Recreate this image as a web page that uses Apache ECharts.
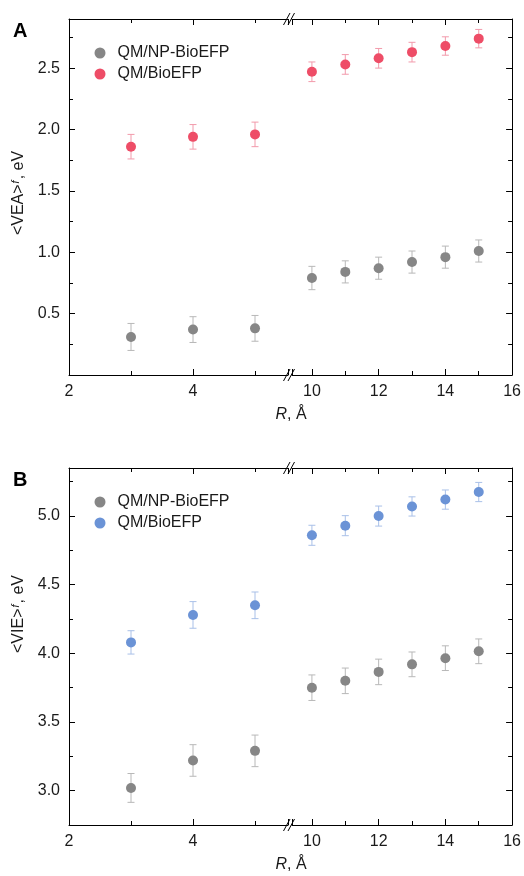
<!DOCTYPE html>
<html>
<head>
<meta charset="utf-8">
<script src="https://cdn.jsdelivr.net/npm/echarts@6/dist/echarts.min.js"></script>
<style>
  html, body { margin: 0; padding: 0; background: #fff; }
  #chart { width: 524px; height: 876px; }
</style>
</head>
<body>
<div id="chart"></div>
<script>
// R values (Å), left segment 3-5, right segment 10-15
var radii = [3, 4, 5, 10, 11, 12, 13, 14, 15];

// panel A: <VEA>^f, eV
var veaNp = [0.31, 0.37, 0.38, 0.79, 0.84, 0.87, 0.92, 0.96, 1.01];
var veaNpErr = [0.11, 0.105, 0.105, 0.095, 0.09, 0.09, 0.09, 0.09, 0.09];
var veaBio = [1.86, 1.94, 1.96, 2.47, 2.53, 2.58, 2.63, 2.68, 2.74];
var veaBioErr = [0.1, 0.1, 0.1, 0.08, 0.08, 0.08, 0.08, 0.075, 0.075];

// panel B: <VIE>^f, eV
var vieNp = [3.02, 3.22, 3.29, 3.75, 3.80, 3.865, 3.92, 3.965, 4.015];
var vieNpErr = [0.105, 0.115, 0.115, 0.093, 0.093, 0.093, 0.09, 0.09, 0.09];
var vieBio = [4.08, 4.28, 4.35, 4.86, 4.93, 5.0, 5.07, 5.12, 5.175];
var vieBioErr = [0.085, 0.097, 0.097, 0.073, 0.073, 0.073, 0.07, 0.07, 0.07];

var FONT = '"Liberation Sans", Arial, Helvetica, sans-serif';
var INK = '#1a1a1a';

var chart = echarts.init(document.getElementById('chart'));

function pts(vals, left) {
  var out = [];
  radii.forEach(function (r, i) {
    if ((r < 8) === left) out.push([r, vals[i]]);
  });
  return out;
}

function bars(vals, errs, left) {
  var out = [];
  radii.forEach(function (r, i) {
    if ((r < 8) === left) out.push([r, vals[i], vals[i] - errs[i], vals[i] + errs[i]]);
  });
  return out;
}

function errRender(params, api) {
  var x = api.value(0);
  var top = api.coord([x, api.value(3)]);
  var bot = api.coord([x, api.value(2)]);
  var w = 3.5;
  var st = { stroke: api.visual('color'), lineWidth: 1 };
  return {
    type: 'group',
    children: [
      { type: 'line', shape: { x1: top[0], y1: top[1], x2: bot[0], y2: bot[1] }, style: st },
      { type: 'line', shape: { x1: top[0] - w, y1: top[1], x2: top[0] + w, y2: top[1] }, style: st },
      { type: 'line', shape: { x1: bot[0] - w, y1: bot[1], x2: bot[0] + w, y2: bot[1] }, style: st }
    ]
  };
}

var panels = [
  { top: 19, height: 356, ymin: 0, ymax: 2.9, yStep: { interval: 0.5 },
    letter: 'A', title: '<VEA>', titleY: 193,
    np: veaNp, npErr: veaNpErr, bio: veaBio, bioErr: veaBioErr,
    bioColor: '#ee4d67', bioBar: '#f29aab' },
  { top: 468, height: 357, ymin: 2.75, ymax: 5.35, yStep: { minInterval: 0.5, maxInterval: 0.5 },
    letter: 'B', title: '<VIE>', titleY: 614,
    np: vieNp, npErr: vieNpErr, bio: vieBio, bioErr: vieBioErr,
    bioColor: '#6b93d6', bioBar: '#a9c0e8' }
];

// two x segments with a small gap hidden under the break mark
var segments = [
  { left: 69, width: 219, min: 2, max: 5.532, isLeft: true, xStep: { interval: 2 } },
  { left: 292, width: 221, min: 9.403, max: 16, isLeft: false, xStep: { minInterval: 2, maxInterval: 2 } }
];

var npColor = '#868686', npBar = '#b8b8b8';

var grid = [], xAxis = [], yAxis = [], series = [], legend = [], graphic = [];

var labelRich = { t: { color: INK, fontSize: 16, fontFamily: FONT } };

function frameLine() {
  return { show: true, onZero: false, lineStyle: { color: '#000', width: 1 } };
}

function xAxisFor(g, s, pos) {
  var label = { show: false };
  if (pos === 'bottom') {
    label = { show: true, margin: 9, rich: labelRich, formatter: function (v) { return '{t|' + v + '}'; } };
    if (s.isLeft) label.showMaxLabel = false;
    else label.showMinLabel = false;
  }
  return Object.assign({
    type: 'value', gridIndex: g, min: s.min, max: s.max, position: pos,
    axisLine: frameLine(),
    axisTick: { show: true, inside: true, length: 6 },
    minorTick: { show: true, splitNumber: 2, length: 4 },
    splitLine: { show: false },
    axisLabel: label
  }, s.xStep);
}

panels.forEach(function (p, pi) {
  segments.forEach(function (s, si) {
    var g = pi * 2 + si;
    grid.push({ left: s.left, top: p.top, width: s.width, height: p.height });
    xAxis.push(xAxisFor(g, s, 'bottom'));
    xAxis.push(xAxisFor(g, s, 'top'));
    yAxis.push(Object.assign({
      type: 'value', gridIndex: g, min: p.ymin, max: p.ymax,
      position: s.isLeft ? 'left' : 'right',
      axisLine: frameLine(),
      axisTick: { show: true, inside: true, length: 6 },
      minorTick: { show: true, splitNumber: 2, length: 4 },
      splitLine: { show: false },
      axisLabel: s.isLeft
        ? { show: true, margin: 9, showMinLabel: false, showMaxLabel: false, rich: labelRich,
            formatter: function (v) { return '{t|' + v.toFixed(1) + '}'; } }
        : { show: false }
    }, p.yStep));
    var xi = 2 * g, yi = g;
    series.push({
      type: 'custom', name: 'QM/NP-BioEFP', renderItem: errRender, xAxisIndex: xi, yAxisIndex: yi,
      itemStyle: { color: npBar }, data: bars(p.np, p.npErr, s.isLeft)
    });
    series.push({
      type: 'custom', name: 'QM/BioEFP', renderItem: errRender, xAxisIndex: xi, yAxisIndex: yi,
      itemStyle: { color: p.bioBar }, data: bars(p.bio, p.bioErr, s.isLeft)
    });
    series.push({
      type: 'scatter', name: 'QM/NP-BioEFP', symbolSize: 10, xAxisIndex: xi, yAxisIndex: yi,
      itemStyle: { color: npColor, opacity: 1 }, data: pts(p.np, s.isLeft)
    });
    series.push({
      type: 'scatter', name: 'QM/BioEFP', symbolSize: 10, xAxisIndex: xi, yAxisIndex: yi,
      itemStyle: { color: p.bioColor, opacity: 1 }, data: pts(p.bio, s.isLeft)
    });
  });

  legend.push({
    orient: 'vertical', left: 89.5, top: p.top + 21, icon: 'circle',
    itemWidth: 25, itemHeight: 11, itemGap: 5, selectedMode: false,
    textStyle: { color: INK, fontSize: 16, fontFamily: FONT, lineHeight: 16 },
    data: [
      { name: 'QM/NP-BioEFP', itemStyle: { color: npColor } },
      { name: 'QM/BioEFP', itemStyle: { color: p.bioColor } }
    ]
  });

  // panel letter
  graphic.push({
    type: 'text', left: 13, top: p.top + 2,
    style: { text: p.letter, fill: '#000', font: 'bold 20px ' + FONT }
  });
  // y title
  graphic.push({
    type: 'text', x: 19, y: p.titleY, rotation: Math.PI / 2,
    style: {
      text: '{n|' + p.title + '}{s|f}{n|, eV}', align: 'center', verticalAlign: 'middle',
      rich: {
        n: { fontSize: 16, fontFamily: FONT, fill: INK, lineHeight: 18 },
        s: { fontSize: 11, fontFamily: FONT, fontStyle: 'italic', fill: INK, lineHeight: 11, verticalAlign: 'top', padding: [0, 1, 0, 1] }
      }
    }
  });
  // x title
  graphic.push({
    type: 'text', x: 291, y: p.top + p.height + 40,
    style: {
      text: '{i|R}{n|, Å}', align: 'center', verticalAlign: 'middle',
      rich: {
        i: { fontSize: 16, fontFamily: FONT, fontStyle: 'italic', fill: INK },
        n: { fontSize: 16, fontFamily: FONT, fill: INK }
      }
    }
  });
  // axis break marks on top and bottom frame
  [p.top, p.top + p.height].forEach(function (yy) {
    graphic.push({
      type: 'group', z: 100,
      children: [
        { type: 'rect', shape: { x: 286, y: yy - 7, width: 8, height: 14 }, style: { fill: '#fff' } },
        { type: 'line', shape: { x1: 283.5, y1: yy + 6, x2: 290, y2: yy - 6 }, style: { stroke: '#000', lineWidth: 1 } },
        { type: 'line', shape: { x1: 288, y1: yy + 6, x2: 294.5, y2: yy - 6 }, style: { stroke: '#000', lineWidth: 1 } }
      ]
    });
  });
});

chart.setOption({
  animation: false,
  grid: grid,
  xAxis: xAxis,
  yAxis: yAxis,
  legend: legend,
  graphic: graphic,
  series: series
});
</script>
</body>
</html>
